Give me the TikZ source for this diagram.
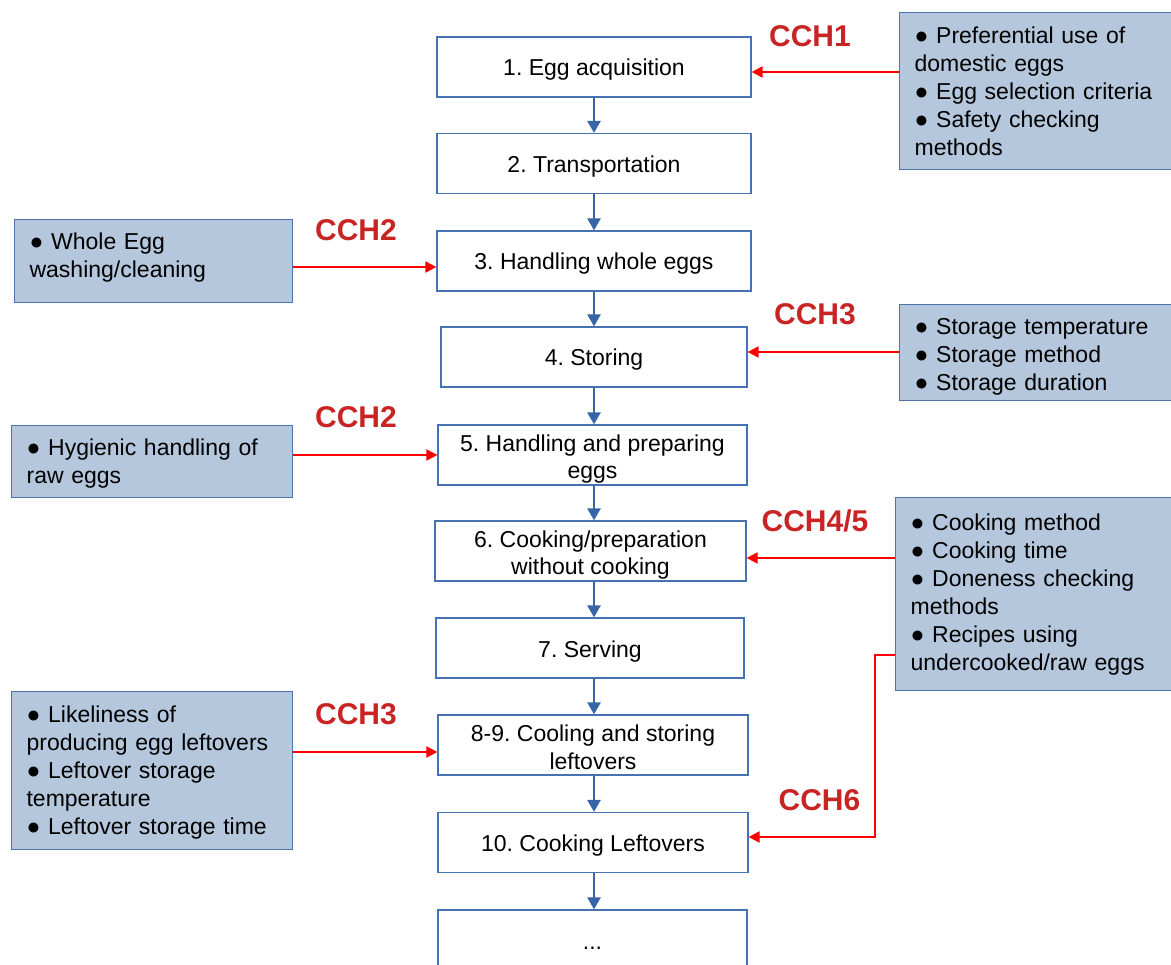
\documentclass[tikz,border=0pt]{standalone}
\usepackage{fontspec}
\setmainfont{Liberation Sans}
\usepackage[usenames,dvipsnames]{xcolor}
\usepackage{tikz}
\usetikzlibrary{arrows.meta,positioning,calc}

\definecolor{stepline}{RGB}{68,114,178}
\definecolor{notefill}{RGB}{180,199,220}
\definecolor{noteline}{RGB}{79,115,170}
\definecolor{flowblue}{RGB}{54,101,168}
\definecolor{cchred}{RGB}{200,36,36}

\tikzset{
	stepbox/.style={draw=stepline, line width=1.2pt, fill=white, minimum width=#1, minimum height=60pt, align=center, inner sep=0pt, text height=18pt, text depth=0pt},
	stepbox/.default=310pt,
	twoline/.style={text height=48pt, text depth=0pt},
	notebox/.style={draw=noteline, line width=1.2pt, fill=notefill, anchor=north west, align=left, inner xsep=15pt, inner ysep=0pt, text width=#1},
	flow/.style={draw=flowblue, line width=2.4pt, -{Triangle[length=12pt,width=13pt]}},
	hazard/.style={draw=red, line width=2pt, -{Triangle[length=11pt,width=11pt]}},
	cchlabel/.style={text=cchred, font=\fontsize{30}{36}\selectfont\bfseries}
}

\begin{document}
\frenchspacing
\begin{tikzpicture}[x=1pt, y=-1pt, font=\fontsize{23}{28}\selectfont]

	\useasboundingbox (0,0) rectangle (1171,965);

	% steps
	\node[stepbox=314pt] (acq) at (594,67) {1. Egg acquisition};
	\node[stepbox=314pt] (trans) at (594,163.5) {2. Transportation};
	\node[stepbox=314pt] (whole) at (594,261) {3. Handling whole eggs};
	\node[stepbox=306pt] (store) at (594,357) {4. Storing};
	\node[stepbox=309pt, twoline] (prep) at (592.5,455) {5. Handling and preparing\\eggs};
	\node[stepbox=311pt, twoline] (cook) at (590.5,551) {6. Cooking/preparation\\without cooking};
	\node[stepbox=308pt] (serve) at (590,648) {7. Serving};
	\node[stepbox=310pt, twoline] (cool) at (593,745) {8-9. Cooling and storing\\leftovers};
	\node[stepbox=310pt] (reheat) at (593,842.5) {10. Cooking Leftovers};
	\node[stepbox=309pt] (more) at (592.5,940) {...};

	\foreach \a/\b in {acq/trans, trans/whole, whole/store, store/prep, prep/cook,
		cook/serve, serve/cool, cool/reheat, reheat/more}
	\draw[flow] (\a.south -| 594,0) -- (\b.north -| 594,0);

	% hazard notes
	\node[notebox=242pt, minimum height=157pt] (buy) at (899,12)
		{● Preferential use of\\domestic eggs\\● Egg selection criteria\\● Safety checking\\methods};
	\node[notebox=248pt, minimum height=83pt, text depth=39pt] (wash) at (14,219)
		{● Whole Egg\\washing/cleaning};
	\node[notebox=242pt, minimum height=96pt, text depth=53pt] (keep) at (899,304)
		{● Storage temperature\\● Storage method\\● Storage duration};
	\node[notebox=251pt, minimum height=72pt, text depth=29pt] (hyg) at (11,425)
		{● Hygienic handling of\\raw eggs};
	\node[notebox=246pt, minimum height=193pt] (heat) at (895,497)
		{● Cooking method\\● Cooking time\\● Doneness checking\\methods\\● Recipes using\\undercooked/raw eggs};
	\node[notebox=251pt, minimum height=158pt, text depth=113pt] (left) at (11,691)
		{● Likeliness of\\producing egg leftovers\\● Leftover storage\\temperature\\● Leftover storage time};

	\draw[hazard] (buy.west |- 0,72) -- (acq.east |- 0,72);
	\draw[hazard] (wash.east |- 0,267) -- (whole.west |- 0,267);
	\draw[hazard] (keep.west |- 0,352) -- (store.east |- 0,352);
	\draw[hazard] (hyg.east |- 0,455) -- (prep.west |- 0,455);
	\draw[hazard] (heat.west |- 0,558) -- (cook.east |- 0,558);
	\draw[hazard] (left.east |- 0,752) -- (cool.west |- 0,752);
	\draw[hazard] (heat.west |- 0,655) -- ++(-20,0) |- (reheat.east |- 0,837);

	% labels
	\node[cchlabel] (cch1) at (810,36) {CCH1};
	\node[cchlabel] (cch2a) at (356,230) {CCH2};
	\node[cchlabel] (cch3a) at (815,314) {CCH3};
	\node[cchlabel] (cch2b) at (356,417) {CCH2};
	\node[cchlabel] (cch45) at (815,521) {CCH4/5};
	\node[cchlabel] (cch3b) at (356,714) {CCH3};
	\node[cchlabel] (cch6) at (819.5,800) {CCH6};

%	\draw[help lines, step=50] (0,0) grid (1171,965);

\end{tikzpicture}
\end{document}
